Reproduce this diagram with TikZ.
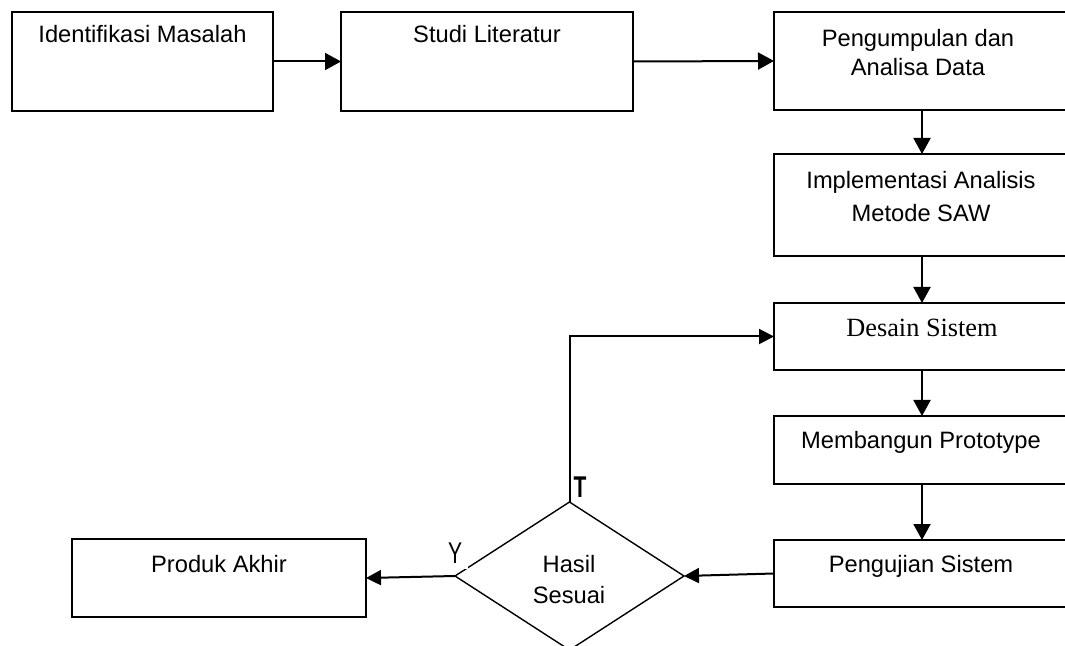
\documentclass[tikz,border=0pt]{standalone}
\usepackage{fontspec}
\setmainfont{Liberation Sans}
\newfontfamily\tmsfont{Liberation Serif}
\usepackage{graphicx}
\usetikzlibrary{arrows.meta,shapes.geometric}
\begin{document}
\begin{tikzpicture}[x=0.5pt,y=-0.5pt,
  box/.style={draw=black,line width=1pt,rectangle,inner sep=0pt,outer sep=0pt},
  txt/.style={anchor=base,inner sep=0pt,font=\fontsize{11.85}{14}\selectfont},
  arr/.style={line width=1pt,-{Triangle[length=8pt,width=8.5pt]}},
  arrs/.style={line width=1pt,-{Triangle[length=7.5pt,width=7.5pt]}},
  branch/.style={anchor=base,font=\fontsize{15}{18}\selectfont}
]
\useasboundingbox (0,0) rectangle (1065,646);
\clip (0,0) rectangle (1065,646);

% boxes
\node[box,minimum width=130.5pt,minimum height=49.5pt] (ident) at (142.5,61.5) {};
\node[box,minimum width=146pt,minimum height=49.5pt] (studi) at (487,61.5) {};
\node[box,minimum width=148pt,minimum height=49pt] (pengum) at (922,61) {};
\node[box,minimum width=148pt,minimum height=51pt] (impl) at (922,205) {};
\node[box,minimum width=148pt,minimum height=33.5pt] (desain) at (922,336.5) {};
\node[box,minimum width=148pt,minimum height=34pt] (memb) at (922,450) {};
\node[box,minimum width=148pt,minimum height=33.5pt] (peng) at (922,573.5) {};
\node[box,minimum width=147pt,minimum height=39pt] (produk) at (219,578) {};
\node[draw=black,line width=0.7pt,diamond,inner sep=0pt,outer sep=0pt,
      minimum width=114.5pt,minimum height=74pt] (dia) at (569.5,576) {};

% texts
\node[txt] (tIdent) at (142.5,43) {Identifikasi Masalah};
\node[txt] (tStudi) at (487,43) {Studi Literatur};
\node[txt] (tPeng1) at (918,47) {Pengumpulan dan};
\node[txt] (tPeng2) at (918,76) {Analisa Data};
\node[txt] (tImpl1) at (921,189) {Implementasi Analisis};
\node[txt] (tImpl2) at (921,222) {Metode SAW};
\node[txt,font=\tmsfont\fontsize{13.15}{15}\selectfont] (tDesain) at (922,337) {Desain Sistem};
\node[txt] (tMemb) at (921,448) {Membangun Prototype};
\node[txt] (tPengu) at (921,572) {Pengujian Sistem};
\node[txt] (tProduk) at (219,572) {Produk Akhir};
\node[txt] (tHasil) at (569,572) {Hasil};
\node[txt] (tSesuai) at (569,603) {Sesuai};

% connectors
\draw[arr] (ident.east) -- (studi.west);
\draw[arr] (studi.east) -- (pengum.west);
\draw[arr] (pengum.south) -- (impl.north);
\draw[arr] (impl.south) -- (desain.north);
\draw[arr] (desain.south) -- (memb.north);
\draw[arr] (memb.south) -- (peng.north);
\draw[arrs] (peng.west) -- (dia.east);
\draw[arrs] (dia.west) -- (produk.east);
\draw[arrs] (dia.north) |- (desain.west);

% branch labels
\node[branch,fill=white,inner sep=3pt] (ylab) at (455,563) {\scalebox{0.7}[1]{Y}};
\node[branch,font=\bfseries\fontsize{15}{18}\selectfont,inner sep=0pt] (tlab) at (580,497) {\scalebox{0.7}[1]{T}};
\end{tikzpicture}
\end{document}
